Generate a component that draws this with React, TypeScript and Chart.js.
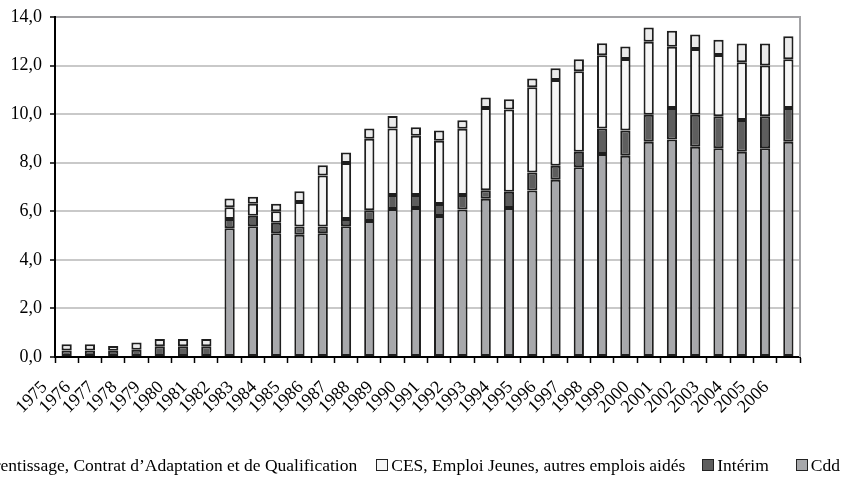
import React, { useEffect, useRef } from "react";
import { Chart, registerables } from "chart.js";

Chart.register(...registerables);

const years = [
  "1975", "1976", "1977", "1978", "1979", "1980", "1981", "1982", "1983", "1984",
  "1985", "1986", "1987", "1988", "1989", "1990", "1991", "1992", "1993", "1994",
  "1995", "1996", "1997", "1998", "1999", "2000", "2001", "2002", "2003", "2004",
  "2005", "2006",
];

const cdd = [
  0, 0, 0, 0, 0, 0, 0,
  5.3, 5.38, 5.1, 5.03, 5.1, 5.38, 5.6, 6.09, 6.14, 5.81, 6.07, 6.52, 6.14, 6.86,
  7.3, 7.81, 8.36, 8.29, 8.86, 8.96, 8.66, 8.6, 8.45, 8.6, 8.86,
];

const interim = [
  0.27, 0.27, 0.26, 0.3, 0.44, 0.44, 0.44,
  0.38, 0.44, 0.43, 0.34, 0.27, 0.3, 0.44, 0.58, 0.53, 0.49, 0.6, 0.35, 0.66, 0.74,
  0.58, 0.64, 1.05, 1.04, 1.12, 1.29, 1.32, 1.31, 1.31, 1.31, 1.39,
];

const ces = [
  0, 0, 0, 0, 0, 0, 0,
  0.49, 0.49, 0.47, 1.01, 2.1, 2.31, 2.95, 2.74, 2.44, 2.6, 2.73, 3.38, 3.39, 3.51,
  3.53, 3.32, 3.02, 2.94, 3.0, 2.53, 2.7, 2.53, 2.38, 2.09, 2.01,
];

const apprentissage = [
  0.26, 0.26, 0.19, 0.3, 0.3, 0.3, 0.3,
  0.36, 0.29, 0.31, 0.45, 0.43, 0.43, 0.42, 0.51, 0.35, 0.43, 0.35, 0.44, 0.42, 0.36,
  0.48, 0.49, 0.49, 0.52, 0.59, 0.65, 0.6, 0.62, 0.77, 0.91, 0.95,
];

const yTicks = [0, 2, 4, 6, 8, 10, 12, 14];

const seriesNames = {
  app: "Apprentissage, Contrat d’Adaptation et de Qualification",
  ces: "CES, Emploi Jeunes, autres emplois aidés",
  interim: "Intérim",
  cdd: "Cdd",
};

const colors = {
  cdd: "#a7a8ab",
  interim: "#5e5e5e",
  ces: "#f6f6f6",
  app: "#ebebeb",
};

const FONT = "'Liberation Serif', 'Times New Roman', serif";
const W = 847;
const H = 477;

const nz = (arr: number[]) => arr.map((v) => (v === 0 ? null : v));

const framePlugin = {
  id: "frameRight",
  afterDatasetsDraw(chart: any) {
    const { ctx, chartArea } = chart;
    ctx.save();
    ctx.strokeStyle = "#a3a3a6";
    ctx.lineWidth = 2;
    ctx.beginPath();
    ctx.moveTo(chartArea.right, chartArea.top - 1);
    ctx.lineTo(chartArea.right, chartArea.bottom);
    ctx.stroke();
    ctx.restore();
  },
};

export default function App() {
  const ref = useRef<HTMLCanvasElement | null>(null);

  useEffect(() => {
    document.body.style.margin = "0";
    const canvas = ref.current;
    if (!canvas) return;
    const common = {
      borderColor: "#1e1e1e",
      borderWidth: 2,
      borderSkipped: false as const,
      barPercentage: 0.44,
      categoryPercentage: 1,
      stack: "s",
    };
    const chart = new Chart(canvas, {
      type: "bar",
      data: {
        labels: years,
        datasets: [
          { label: seriesNames.cdd, data: nz(cdd), backgroundColor: colors.cdd, ...common },
          { label: seriesNames.interim, data: nz(interim), backgroundColor: colors.interim, ...common },
          { label: seriesNames.ces, data: nz(ces), backgroundColor: colors.ces, ...common },
          { label: seriesNames.app, data: nz(apprentissage), backgroundColor: colors.app, ...common },
        ],
      },
      options: {
        animation: false,
        responsive: false,
        devicePixelRatio: 1,
        layout: { padding: { left: 0, right: 47, top: 14, bottom: 0 } },
        plugins: {
          legend: { display: false },
          tooltip: { enabled: false },
        },
        scales: {
          x: {
            stacked: true,
            offset: true,
            afterFit: (scale: any) => {
              scale.height = 120;
            },
            grid: {
              display: true,
              drawOnChartArea: false,
              drawTicks: true,
              tickLength: 6,
              tickColor: "#000",
              tickWidth: 1.5,
              offset: true,
            },
            border: { display: true, color: "#000", width: 2 },
            ticks: {
              autoSkip: false,
              maxRotation: 45,
              minRotation: 45,
              labelOffset: -22,
              padding: 14,
              color: "#000",
              font: { family: FONT, size: 18 },
            },
          },
          y: {
            stacked: true,
            min: 0,
            max: 14,
            afterFit: (scale: any) => {
              scale.width = 55;
            },
            afterBuildTicks: (scale: any) => {
              scale.ticks = yTicks.map((v) => ({ value: v }));
            },
            grid: {
              color: (c: any) => (c.tick && c.tick.value === 14 ? "#a3a3a6" : "#c9c9c9"),
              lineWidth: 2,
              drawTicks: true,
              tickLength: 5,
              tickColor: "#000",
              tickWidth: 1.5,
            },
            border: { display: true, color: "#000", width: 2 },
            ticks: {
              padding: 8,
              color: "#000",
              font: { family: FONT, size: 18, lineHeight: 1 },
              callback: (v: any) => Number(v).toFixed(1).replace(".", ","),
            },
          },
        },
      },
      plugins: [framePlugin],
    });
    return () => chart.destroy();
  }, []);

  const legendItems = [
    { name: seriesNames.app, color: colors.app, gap: 0 },
    { name: seriesNames.ces, color: colors.ces, gap: 19 },
    { name: seriesNames.interim, color: colors.interim, gap: 17 },
    { name: seriesNames.cdd, color: colors.cdd, gap: 27 },
  ];

  return (
    <div style={{ position: "relative", width: W, height: H, overflow: "hidden", background: "#fff" }}>
      <canvas ref={ref} width={W} height={H} style={{ width: W, height: H, display: "block" }} />
      <div
        style={{
          position: "absolute",
          right: 7,
          top: 454,
          display: "flex",
          flexWrap: "nowrap",
          whiteSpace: "nowrap",
          alignItems: "center",
          fontFamily: FONT,
          fontSize: 17.5,
          color: "#000",
          lineHeight: "22px",
        }}
      >
        {legendItems.map((it, i) => (
          <div key={i} style={{ display: "flex", alignItems: "center", marginLeft: it.gap }}>
            <span
              style={{
                display: "inline-block",
                boxSizing: "border-box",
                width: 12,
                height: 12,
                border: "1.5px solid #222",
                background: it.color,
                marginRight: 3,
              }}
            />
            <span>{it.name}</span>
          </div>
        ))}
      </div>
    </div>
  );
}
